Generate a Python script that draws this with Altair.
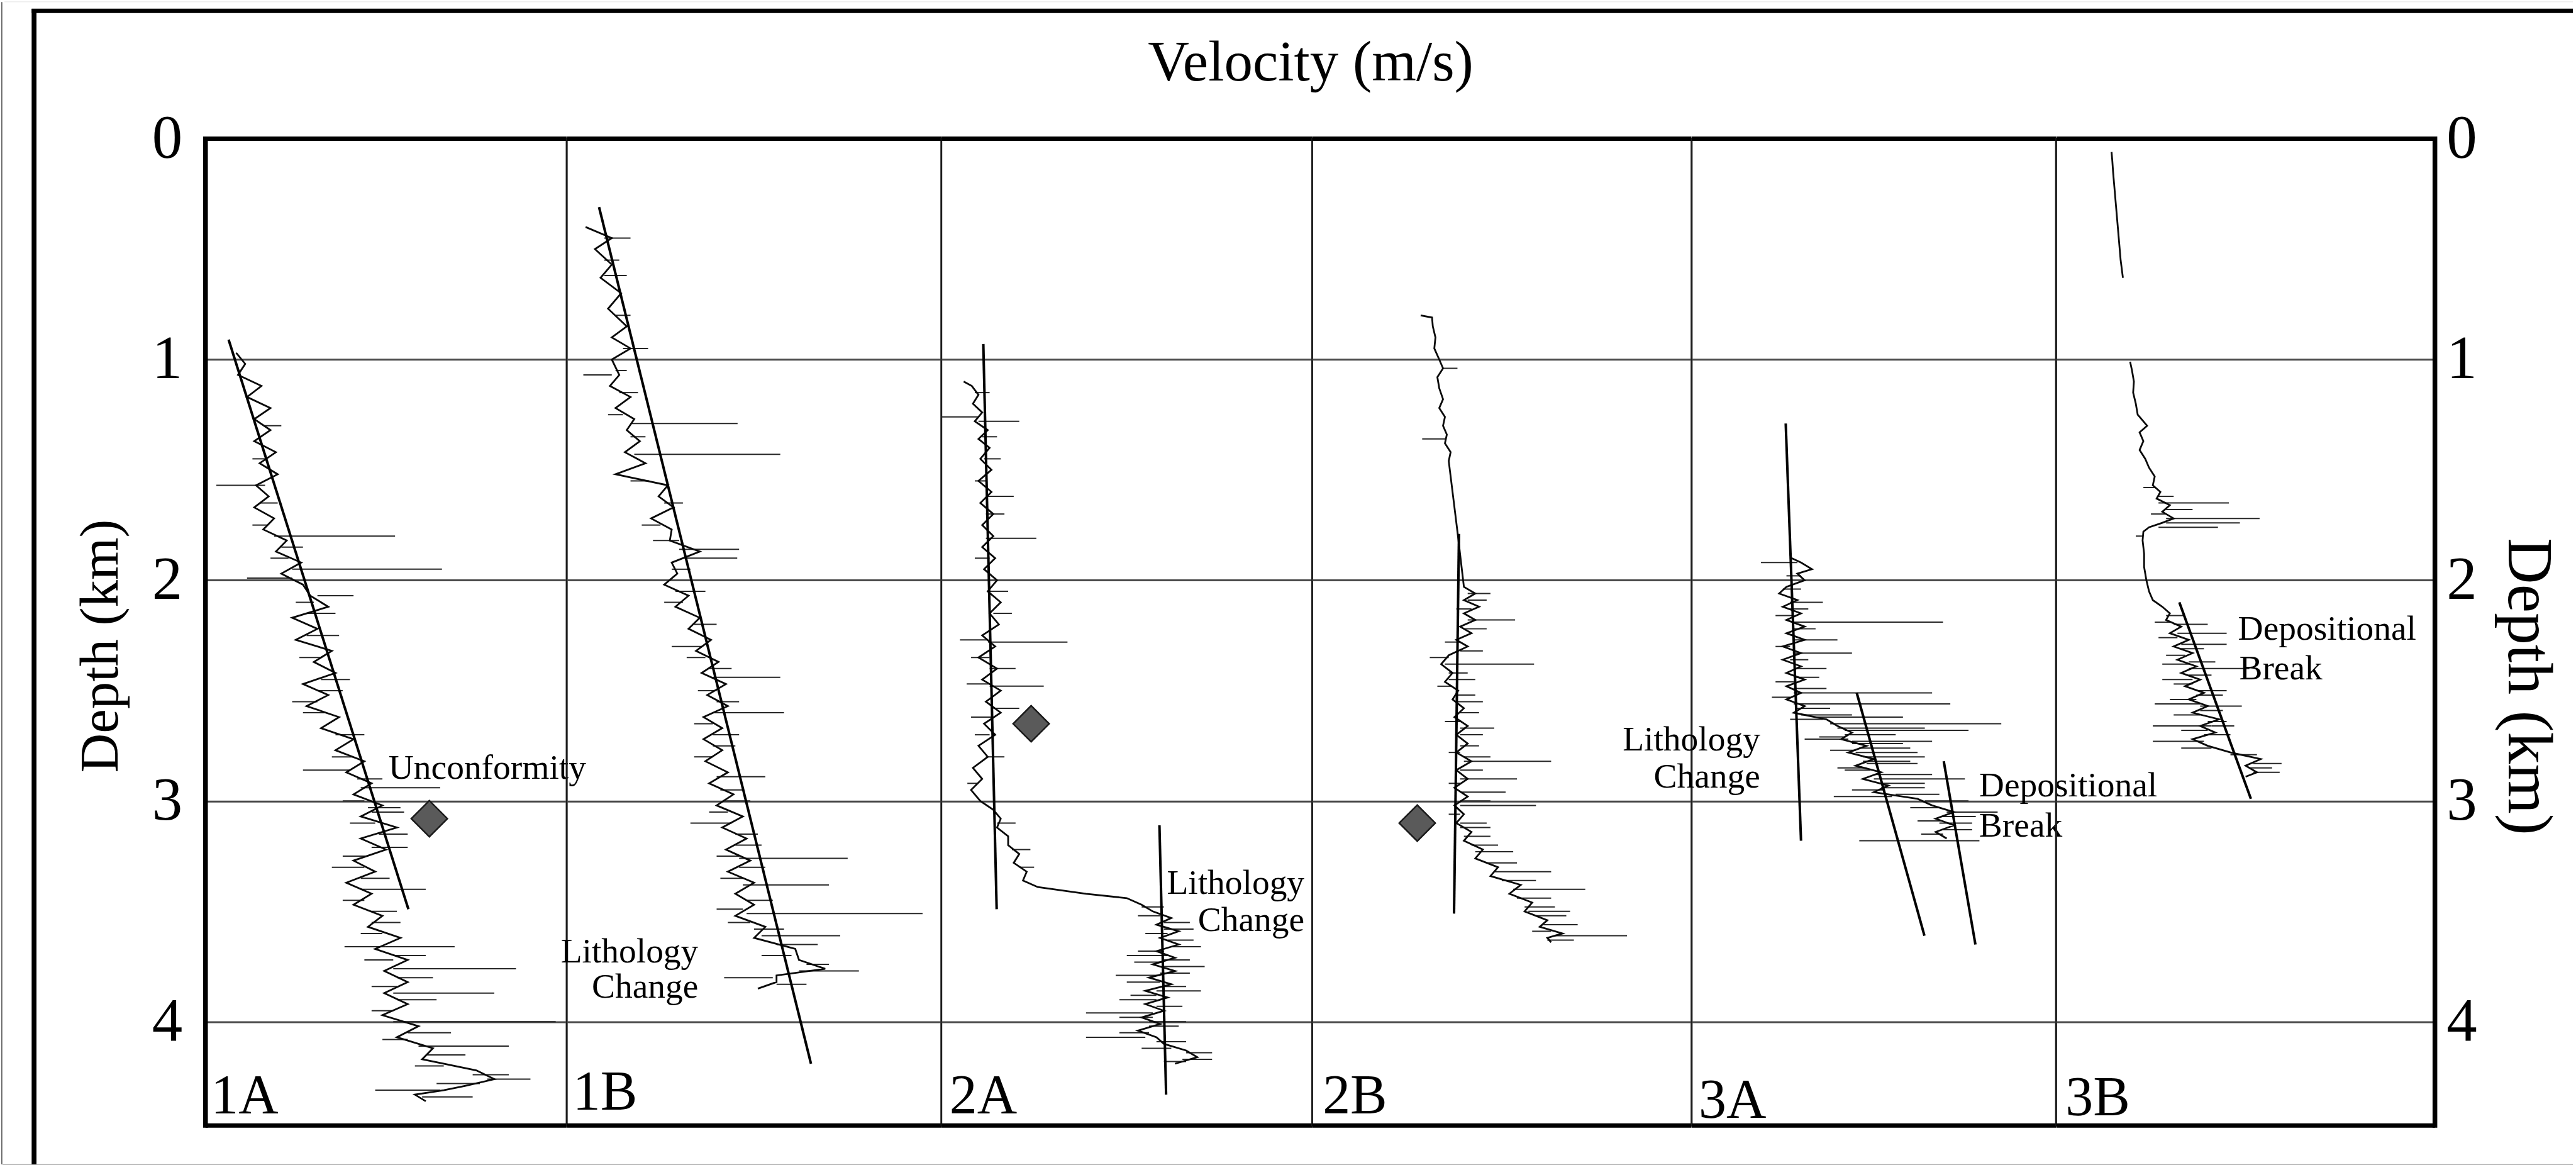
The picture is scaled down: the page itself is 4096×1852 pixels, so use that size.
import altair as alt
import pandas as pd

S = 0.964
FONT = "Liberation Serif"
V_MIN, V_MAX = 1500, 6500          # velocity range of every panel (m/s)
D_MAX = 4.47                        # depth range (km)

WELLS = ["1A", "1B", "2A", "2B", "3A", "3B"]
PANEL_W = [574.5, 595.8, 590.0, 603.5, 579.4, 602.5]
PLOT_H = 1569.9

# ---------------- velocity logs: (depth km, velocity m/s) ----------------
LOG_1A = [(0.97,1925),(1.02,2050),(1.07,1950),(1.12,2275),(1.17,2075),(1.22,2400),(1.27,2175),(1.32,2400),
          (1.37,2175),(1.42,2475),(1.47,2250),(1.52,2500),(1.57,2200),(1.62,2375),(1.67,2175),(1.72,2450),
          (1.77,2300),(1.82,2625),(1.87,2475),(1.92,2825),(1.97,2550),(2.02,2850),(2.07,2950),(2.12,3200),
          (2.17,2700),(2.22,3050),(2.27,2750),(2.32,3250),(2.37,3000),(2.42,3300),(2.47,2850),(2.52,3200),
          (2.57,2900),(2.62,3350),(2.67,3100),(2.72,3550),(2.77,3300),(2.82,3700),(2.87,3450),(2.92,3800),
          (2.97,3550),(3.02,3950),(3.07,3650),(3.12,4150),(3.17,3650),(3.22,4000),(3.27,3550),(3.32,3850),
          (3.37,3450),(3.42,3800),(3.47,3550),(3.52,3950),(3.57,3750),(3.62,4200),(3.67,3850),(3.72,4300),
          (3.77,3975),(3.82,4300),(3.87,3975),(3.92,4300),(3.97,3950),(4.02,4450),(4.07,4150),(4.12,4650),
          (4.17,4500),(4.22,5250),(4.26,5500),(4.29,5100),(4.31,4800),(4.33,4400),(4.36,4550)]

LOG_1B = [(0.40,1750),(0.45,2100),(0.50,1875),(0.57,2100),(0.63,1950),(0.70,2225),(0.77,2050),(0.85,2300),
          (0.90,2100),(0.95,2350),(1.00,2100),(1.07,2200),(1.12,2075),(1.17,2350),(1.22,2150),(1.27,2400),
          (1.32,2300),(1.37,2475),(1.42,2275),(1.47,2550),(1.52,2150),(1.57,2850),(1.62,2725),(1.67,2925),
          (1.72,2625),(1.77,2900),(1.82,2875),(1.87,3275),(1.92,2900),(1.97,2975),(2.02,2800),(2.07,3125),
          (2.12,2950),(2.17,3275),(2.22,3125),(2.27,3425),(2.32,3225),(2.37,3525),(2.42,3300),(2.47,3625),
          (2.52,3375),(2.57,3650),(2.62,3325),(2.67,3575),(2.72,3325),(2.77,3575),(2.82,3350),(2.87,3650),
          (2.92,3400),(2.97,3725),(3.02,3500),(3.07,3850),(3.12,3575),(3.17,3900),(3.22,3625),(3.27,3950),
          (3.32,3650),(3.37,4000),(3.42,3750),(3.47,4000),(3.52,3750),(3.57,4150),(3.62,4000),(3.67,4550),
          (3.72,4600),(3.76,4950),(3.79,4300),(3.82,4300),(3.85,4050)]

LOG_2A = [(1.10,1800),(1.12,1910),(1.16,2000),(1.20,1925),(1.24,2050),(1.28,1950),(1.32,2125),(1.36,2000),
          (1.40,2150),(1.45,2025),(1.50,2175),(1.55,2000),(1.60,2175),(1.65,2025),(1.70,2200),(1.75,2050),
          (1.80,2200),(1.85,2050),(1.90,2225),(1.95,2075),(2.00,2250),(2.05,2125),(2.10,2300),(2.15,2150),
          (2.20,2275),(2.25,2050),(2.30,2225),(2.35,2000),(2.40,2250),(2.45,2050),(2.50,2300),(2.55,2100),
          (2.60,2300),(2.65,2075),(2.70,2225),(2.75,2000),(2.80,2125),(2.85,1925),(2.90,2050),(2.95,1900),
          (3.00,2025),(3.04,2200),(3.08,2300),(3.12,2250),(3.16,2400),(3.20,2400),(3.24,2550),(3.28,2475),
          (3.32,2650),(3.36,2600),(3.39,2800),(3.42,3450),(3.44,4000),(3.47,4200),(3.50,4350),(3.53,4600),
          (3.56,4400),(3.59,4700),(3.62,4450),(3.65,4700),(3.68,4400),(3.71,4650),(3.74,4350),(3.77,4650),
          (3.80,4300),(3.83,4600),(3.86,4250),(3.89,4550),(3.92,4250),(3.95,4500),(3.98,4200),(4.01,4450),
          (4.04,4150),(4.07,4400),(4.10,4500),(4.13,4800),(4.16,4950),(4.19,4650)]

LOG_2B = [(0.80,2930),(0.81,3080),(0.85,3090),(0.90,3125),(0.95,3110),(1.00,3175),(1.04,3225),(1.08,3150),
          (1.13,3175),(1.18,3225),(1.22,3175),(1.26,3250),(1.30,3225),(1.34,3275),(1.38,3250),(1.42,3325),
          (1.46,3300),(1.78,3415),(2.03,3500),(2.06,3650),(2.09,3500),(2.12,3700),(2.15,3500),(2.18,3650),
          (2.21,3450),(2.24,3600),(2.27,3400),(2.30,3550),(2.34,3300),(2.38,3200),(2.42,3350),(2.46,3250),
          (2.50,3425),(2.54,3350),(2.58,3500),(2.62,3375),(2.66,3550),(2.70,3400),(2.74,3550),(2.78,3400),
          (2.82,3600),(2.86,3400),(2.90,3550),(2.94,3375),(2.98,3550),(3.02,3375),(3.06,3500),(3.10,3400),
          (3.14,3600),(3.18,3500),(3.22,3750),(3.26,3650),(3.30,3950),(3.34,3850),(3.38,4250),(3.42,4100),
          (3.46,4400),(3.50,4300),(3.54,4600),(3.57,4500),(3.60,4800),(3.62,4600),(3.64,4650)]

LOG_3A = [(1.90,2870),(1.92,3000),(1.95,3150),(1.97,2950),(2.00,3050),(2.03,2800),(2.06,2700),(2.09,2950),
          (2.12,2750),(2.15,3000),(2.18,2800),(2.21,3050),(2.24,2800),(2.27,3050),(2.30,2750),(2.33,3000),
          (2.36,2750),(2.39,3000),(2.42,2800),(2.45,3050),(2.48,2800),(2.51,3000),(2.54,2800),(2.57,3050),
          (2.60,2900),(2.63,3350),(2.66,3500),(2.69,3700),(2.72,3550),(2.75,3900),(2.78,3650),(2.81,4000),
          (2.84,3750),(2.87,4100),(2.90,3850),(2.93,4200),(2.96,4000),(2.99,4600),(3.02,4800),(3.05,5100),
          (3.08,4850),(3.11,5100),(3.14,4850),(3.17,5000)]

LOG_3B_UPPER = [(0.06,2230),(0.10,2240),(0.15,2250),(0.25,2275),(0.35,2300),(0.45,2325),(0.55,2350),(0.63,2380)]
LOG_3B_LOWER = [(1.01,2475),(1.05,2500),(1.10,2525),(1.15,2515),(1.20,2550),(1.25,2575),(1.30,2700),(1.33,2600),
                (1.37,2650),(1.41,2600),(1.45,2675),(1.49,2725),(1.53,2800),(1.57,2775),(1.60,2875),(1.63,2825),
                (1.66,3000),(1.69,2900),(1.72,3050),(1.74,2900),(1.76,2725),(1.78,2650),(1.82,2640),(1.88,2660),
                (1.94,2660),(2.00,2690),(2.05,2725),(2.09,2775),(2.12,2900),(2.15,3000),(2.18,2950),(2.21,3150),
                (2.24,3000),(2.27,3250),(2.30,3050),(2.33,3300),(2.36,3100),(2.39,3350),(2.42,3150),(2.45,3400),
                (2.48,3200),(2.51,3450),(2.54,3250),(2.57,3500),(2.60,3300),(2.63,3650),(2.66,3400),(2.69,3600),
                (2.72,3300),(2.75,3500),(2.78,3800),(2.81,4200),(2.84,4000),(2.87,4150),(2.89,4000)]

LOGS = {"1A": [LOG_1A], "1B": [LOG_1B], "2A": [LOG_2A], "2B": [LOG_2B], "3A": [LOG_3A],
        "3B": [LOG_3B_UPPER, LOG_3B_LOWER]}

# ---------------- log spikes: (depth km, from velocity, to velocity) ----------------
SPK_1A = [(1.57,2325,1650),(1.80,2450,4125),(1.95,2700,4775),(1.99,2700,2075),(2.07,3050,3550),(2.86,3500,2850),
          (2.94,3650,4750),(3.40,3650,4550),(3.66,4000,3425),(3.66,4000,4950),(3.76,4100,5800),(3.87,4100,5500),
          (4.00,4100,6350),(4.11,4450,5700),(4.26,5400,6000),(4.31,4750,3850),(3.03,3750,4200),(3.21,3800,4300),
          (3.55,3800,4200),(2.45,3100,3500),(2.25,2900,3350),(2.55,3050,2700),(3.30,3700,3250),
          (2.10,3000,2750),(2.15,2900,3300),(2.35,3100,2800),(2.50,3050,3400),(2.60,3150,2850),(2.70,3300,3700),
          (2.80,3550,3250),(2.90,3600,3950),(3.00,3700,3400),(3.05,3800,4250),(3.10,3850,3500),(3.15,3900,4300),
          (3.25,3750,3400),(3.35,3650,4050),(3.45,3700,3400),(3.50,3800,4150),(3.60,3950,3650),(3.70,4100,4550),
          (3.72,4100,3700),(3.80,4150,4650),(3.84,4150,3800),(3.90,4150,4700),(3.95,4100,3800),(4.05,4300,4900),
          (4.08,4300,3950),(4.15,4550,5100),(4.20,4800,4400),(4.24,5200,5700),(4.28,5300,4700),(4.34,4500,5200),
          (1.30,2300,2550),(1.45,2350,2150),(1.65,2250,2500),(1.75,2350,2150),(1.85,2550,2850),(1.90,2650,2400)]
SPK_1B = [(0.45,2000,2350),(0.95,2250,2585),(1.07,2100,1720),(1.29,2350,3780),(1.43,2400,4350),(1.82,3000,2650),
          (1.86,3000,3800),(1.90,3050,3775),(2.30,3300,2900),(2.44,3450,4350),(2.60,3450,4400),(2.89,3500,4150),
          (3.10,3700,3150),(3.26,3800,5250),(3.38,3850,5000),(3.49,3850,3500),(3.51,3900,6250),(3.61,4100,5150),
          (3.77,4600,5400),(3.80,4250,3600),(0.62,2000,2300),(1.15,2200,2450),(2.05,2950,3350),(2.70,3450,3800),
          (3.00,3600,3950),(3.20,3750,4100),
          (0.55,2000,2200),(0.80,2150,2350),(1.05,2150,2300),(1.25,2250,2050),(1.35,2350,2550),(1.55,2600,2350),
          (1.65,2800,3050),(1.75,2750,2500),(1.95,2900,3150),(2.10,3050,2800),(2.20,3200,3500),(2.35,3350,3100),
          (2.40,3400,3700),(2.50,3500,3250),(2.55,3500,3800),(2.65,3450,3200),(2.75,3450,3750),(2.80,3450,3200),
          (2.95,3550,3850),(3.05,3650,3400),(3.15,3750,4050),(3.25,3800,3500),(3.30,3800,4150),(3.35,3850,3550),
          (3.45,3900,4250),(3.55,3950,3650),(3.58,4000,4400),(3.65,4300,4850),(3.70,4500,4100),(3.74,4700,5000),
          (3.83,4300,4700)]
SPK_2A = [(1.26,2000,1500),(1.28,2000,2550),(1.62,2100,2475),(1.81,2100,2780),(2.27,2130,1750),(2.28,2130,3200),
          (2.47,2150,1840),(2.48,2150,2880),(2.58,2200,2550),(3.66,4600,5000),(3.70,4550,4000),(3.75,4500,5050),
          (3.79,4450,3850),(3.86,4400,5000),(3.90,4400,3900),(3.96,4350,3450),(4.07,4250,3450),(4.17,4750,5150),
          (1.45,2075,2300),(2.05,2150,2400),(2.62,2200,1900),(3.58,4500,4900),(4.00,4300,4800),
          (3.48,4200,4500),(3.52,4450,4150),(3.55,4500,4850),(3.60,4550,4250),(3.63,4550,4900),(3.68,4500,4150),
          (3.72,4500,4850),(3.73,4500,4100),(3.78,4450,4850),(3.82,4450,4000),(3.84,4450,4800),(3.88,4400,4050),
          (3.93,4400,4750),(3.98,4350,3900),(4.02,4300,4700),(4.05,4300,3900),(4.09,4400,4800),(4.12,4600,4200),
          (4.14,4800,5150),(4.18,4800,4500),(1.15,1950,2150),(1.35,2050,2250),(1.55,2100,1950),(1.70,2100,2350),
          (1.90,2150,1950),(2.15,2200,2450),(2.35,2150,1900),(2.40,2150,2500),(2.70,2150,1950),(2.80,2100,2350),
          (2.92,2000,1850),(3.10,2250,2500),(3.22,2450,2700),(3.30,2550,2750)]
SPK_2B = [(1.04,3225,3415),(1.36,3265,2950),(2.06,3550,3850),(2.18,3550,4175),(2.35,3300,3050),(2.38,3250,4425),
          (2.55,3400,3750),(2.67,3450,3900),(2.82,3500,4650),(2.90,3450,4200),(2.96,3450,4050),(3.02,3450,4450),
          (3.23,3650,4150),(3.32,3900,4650),(3.40,4150,5100),(3.61,4700,5650),(2.45,3300,3650),(2.75,3450,3700),
          (3.12,3450,3850),(3.50,4350,4900),
          (2.09,3550,3800),(2.13,3600,3400),(2.22,3500,3800),(2.28,3450,3250),(2.32,3450,3750),(2.42,3300,3550),
          (2.48,3350,3150),(2.52,3400,3650),(2.60,3450,3700),(2.64,3450,3250),(2.70,3450,3750),(2.78,3450,3300),
          (2.80,3500,3850),(2.86,3450,3750),(2.92,3450,3300),(3.00,3450,3850),(3.06,3450,3300),(3.10,3450,3800),
          (3.16,3500,3850),(3.20,3600,3950),(3.28,3800,4200),(3.36,4000,4450),(3.44,4200,4650),(3.48,4300,4700),
          (3.52,4450,4850),(3.56,4550,5000),(3.59,4650,4400),(3.63,4600,4950)]
SPK_3A = [(1.92,2950,2450),(2.19,2900,4950),(2.27,2900,3500),(2.33,2900,3700),(2.51,2900,4800),(2.53,2850,2600),
          (2.56,2900,5050),(2.61,3000,3700),(2.65,3400,5750),(2.68,3600,5300),(2.72,3650,3050),(2.78,3750,4600),
          (2.85,3900,3500),(2.90,4000,5250),(2.98,4250,3450),(3.05,5000,5700),(3.18,3800,5450),(2.10,2850,3300),
          (2.40,2900,3350),(2.74,3700,4400),(2.82,3850,4500),(2.94,4100,4700),(3.10,4900,5350),
          (1.98,3000,2800),(2.04,2750,3000),(2.13,2850,3100),(2.16,2900,2650),(2.22,2900,3200),(2.30,2850,2650),
          (2.36,2850,3100),(2.44,2900,3250),(2.46,2900,2650),(2.49,2900,3350),(2.58,2950,3400),(2.62,3200,4400),
          (2.63,3300,2850),(2.67,3500,4700),(2.70,3600,4300),(2.71,3600,3250),(2.73,3700,4800),(2.76,3800,4500),
          (2.77,3750,3400),(2.80,3850,4700),(2.83,3900,4600),(2.86,3950,3600),(2.88,4000,4800),(2.92,4100,4700),
          (2.95,4150,3700),(2.97,4300,4900),(3.00,4700,5300),(3.03,4900,4500),(3.07,4950,5400),(3.09,4950,4600),
          (3.13,4950,5350),(3.15,4950,4650)]
SPK_3B = [(1.65,2850,3780),(1.72,2950,4185),(1.74,2950,3925),(1.76,2850,3635),(2.24,3100,3750),(2.29,3150,3750),
          (2.38,3250,2900),(2.40,3250,4050),(2.45,3300,2900),(2.50,3350,3750),(2.56,3400,2800),(2.57,3400,3950),
          (2.66,3550,2775),(2.66,3550,3850),(2.73,3450,2775),(2.83,4100,4475),(2.87,4100,4450),
          (1.80,2640,2550),(2.16,2950,3200),(2.19,3000,2800),(2.20,3050,3500),(2.26,3100,2850),(2.31,3150,3450),
          (2.34,3200,2950),(2.37,3250,3600),(2.43,3250,3550),(2.47,3300,3050),(2.52,3350,3700),(2.54,3350,3000),
          (2.59,3400,3700),(2.61,3400,3050),(2.64,3500,3750),(2.68,3500,3150),(2.70,3450,3800),(2.76,3550,3150),
          (2.79,3800,4150),(2.85,4050,4350),(1.68,2950,3300),(1.70,2950,2750),(1.62,2850,3050),(1.58,2800,2650)]
SPIKES = {"1A": SPK_1A, "1B": SPK_1B, "2A": SPK_2A, "2B": SPK_2B, "3A": SPK_3A, "3B": SPK_3B}

# ---------------- interpreted trend lines ----------------
TREND_WELL = ["1A", "1B", "2A", "2A", "2B", "3A", "3A", "3A", "3B"]
TREND_D1 = [0.91, 0.31, 0.93, 3.11, 1.79, 1.29, 2.51, 2.82, 2.10]
TREND_V1 = [1820, 1930, 2065, 4440, 3435, 2790, 3765, 4960, 3125]
TREND_D2 = [3.49, 4.19, 3.49, 4.33, 3.51, 3.18, 3.61, 3.65, 2.99]
TREND_V2 = [4310, 4760, 2245, 4530, 3370, 3000, 4695, 5395, 4070]

# ---------------- unconformity markers ----------------
DIAMOND_WELL = ["1A", "2A", "2B"]
DIAMOND_DEPTH = [3.08, 2.65, 3.10]
DIAMOND_VEL = [4600, 2710, 2885]

# ---------------- annotations ----------------
ANNOT_WELL = ["1A", "1B", "1B", "2A", "2A", "3A", "3A", "3A", "3A", "3B", "3B"]
ANNOT_TEXT = ["Unconformity", "Lithology", "Change", "Lithology", "Change", "Lithology", "Change",
              "Depositional", "Break", "Depositional", "Break"]
ANNOT_DEPTH = [2.90, 3.73, 3.89, 3.42, 3.59, 2.77, 2.94, 2.98, 3.16, 2.27, 2.45]
ANNOT_VEL = [4035, 3255, 3255, 6395, 6395, 2440, 2440, 5445, 5445, 3900, 3915]
ANNOT_ALIGN = ["left", "right", "right", "right", "right", "right", "right", "left", "left", "left", "left"]

DEPTH_TICKS = [0, 1, 2, 3, 4]
# panel-label placement inside each panel (px from left, px from top)
LABEL_X = [8.5, 9.5, 12.8, 16.7, 10.9, 14.7]
LABEL_Y = [1549.6, 1543.9, 1549.6, 1549.6, 1556.3, 1552.5]

ONE = pd.DataFrame({"k": [0]})


def log_df(segments):
    rows, i = [], 0
    for s, seg in enumerate(segments):
        for d, v in seg:
            rows.append({"d": d, "v": v, "i": i, "seg": s})
            i += 1
    return pd.DataFrame(rows)


def rule(x1, x2, y1, y2, color, sw):
    return alt.Chart(ONE).mark_rule(color=color, strokeWidth=sw, strokeCap="butt").encode(
        x=alt.value(x1), x2=alt.value(x2), y=alt.value(y1), y2=alt.value(y2))


def y_axis(i):
    base = dict(values=DEPTH_TICKS, grid=True, gridColor="#4a4a4a", gridWidth=3.2, ticks=False,
                tickSize=0, domain=False, labelFlush=False, labelOverlap=False, labelBound=False)
    if i == 0:
        return alt.Axis(orient="left", labelFont=FONT, labelFontSize=97, labelColor="#000",
                        labelPadding=37, labelBaseline="middle", title="Depth (km)", titleFont=FONT,
                        titleFontSize=87, titleFontWeight="normal", titleColor="#000", titleAngle=270,
                        titleX=-166.3, titleY=806.6, titleAlign="center", titleBaseline="middle", **base)
    if i == 5:
        return alt.Axis(orient="right", labelFont=FONT, labelFontSize=97, labelColor="#000",
                        labelPadding=18, labelAlign="left", labelBaseline="middle", title="Depth (km)",
                        titleFont=FONT, titleFontSize=102, titleFontWeight="normal", titleColor="#000",
                        titleAngle=90, titleX=147.5, titleY=871, titleAlign="center",
                        titleBaseline="middle", **base)
    return alt.Axis(labels=False, title=None, **base)


def panel(i):
    well = WELLS[i]
    w = PANEL_W[i]
    xs = alt.Scale(domain=[V_MIN, V_MAX], nice=False, zero=False)
    ys = alt.Scale(domain=[0, D_MAX], reverse=True, nice=False, zero=False)
    yax = y_axis(i)

    def X(f="v"):
        return alt.X(f"{f}:Q", scale=xs, axis=None)

    def Y(f="d"):
        return alt.Y(f"{f}:Q", scale=ys, axis=yax)

    layers = []
    sp = pd.DataFrame(SPIKES[well], columns=["d", "v", "v2"])
    layers.append(alt.Chart(sp).mark_rule(color="#262626", strokeWidth=2.0).encode(
        x=X(), x2="v2:Q", y=Y()))
    layers.append(alt.Chart(log_df(LOGS[well])).mark_line(color="#0a0a0a", strokeWidth=2.8).encode(
        x=X(), y=Y(), order=alt.Order("i:Q"), detail="seg:N"))

    tr = pd.DataFrame({"w": TREND_WELL, "d": TREND_D1, "v": TREND_V1, "d2": TREND_D2, "v2": TREND_V2})
    tr = tr[tr.w == well]
    layers.append(alt.Chart(tr).mark_rule(color="#000", strokeWidth=4).encode(
        x=X(), x2="v2:Q", y=Y(), y2="d2:Q"))

    dm = pd.DataFrame({"w": DIAMOND_WELL, "d": DIAMOND_DEPTH, "v": DIAMOND_VEL})
    dm = dm[dm.w == well]
    if len(dm):
        layers.append(alt.Chart(dm).mark_point(shape="diamond", filled=True, fill="#5a5a5a",
                                               stroke="#1a1a1a", strokeWidth=2.5, size=3300,
                                               opacity=1).encode(x=X(), y=Y()))

    an = pd.DataFrame({"w": ANNOT_WELL, "t": ANNOT_TEXT, "d": ANNOT_DEPTH, "v": ANNOT_VEL,
                       "a": ANNOT_ALIGN})
    an = an[an.w == well]
    for al in ["left", "right"]:
        sub = an[an.a == al]
        if len(sub):
            layers.append(alt.Chart(sub).mark_text(font=FONT, fontSize=55.5, align=al,
                                                   baseline="alphabetic", color="#000").encode(
                x=X(), y=Y(), text="t:N"))

    layers.append(alt.Chart(pd.DataFrame({"t": [well]})).mark_text(
        font=FONT, fontSize=88, align="left", baseline="alphabetic", color="#000").encode(
        x=alt.value(LABEL_X[i]), y=alt.value(LABEL_Y[i]), text="t:N"))

    # thick plot frame (top / bottom, and outer sides)
    layers.append(rule(0, w, 0, 0, "#000", 7.2))
    layers.append(rule(0, w, PLOT_H, PLOT_H, "#000", 7.2))
    if i == 0:
        layers.append(rule(0, 0, -3.6, PLOT_H + 3.6, "#000", 7.5))
        # outer figure frame and image edges
        layers.append(rule(-324.1, -324.1, -217.5, 1631.6, "#4d4d4d", 1.5))
        layers.append(rule(-320, 3767, -217.8, -217.8, "#e4e4e4", 1))
        layers.append(rule(-272.8, -272.8, -206.7, 1631.6, "#000", 7.7))
        layers.append(rule(-276.65, 3767, -203.4, -203.4, "#000", 6.8))
        layers.append(rule(-323, 3767, 1632.2, 1632.2, "#ababab", 1.3))
    if i == 5:
        layers.append(rule(w, w, -3.6, PLOT_H + 3.6, "#000", 7.5))
    if i == 3:
        layers.append(alt.Chart(pd.DataFrame({"t": ["Velocity (m/s)"]})).mark_text(
            font=FONT, fontSize=91, align="center", baseline="alphabetic", color="#000").encode(
            x=alt.value(-2.4), y=alt.value(-92.1), text="t:N"))

    return alt.layer(*layers).properties(width=w, height=PLOT_H)


chart = alt.hconcat(*[panel(i) for i in range(6)], spacing=0, bounds="flush").properties(
    padding=0, background="white").configure_view(stroke="#1e1e1e", strokeWidth=2.6)

chart.save("out.html", embed_options={"renderer": "svg", "actions": False})
